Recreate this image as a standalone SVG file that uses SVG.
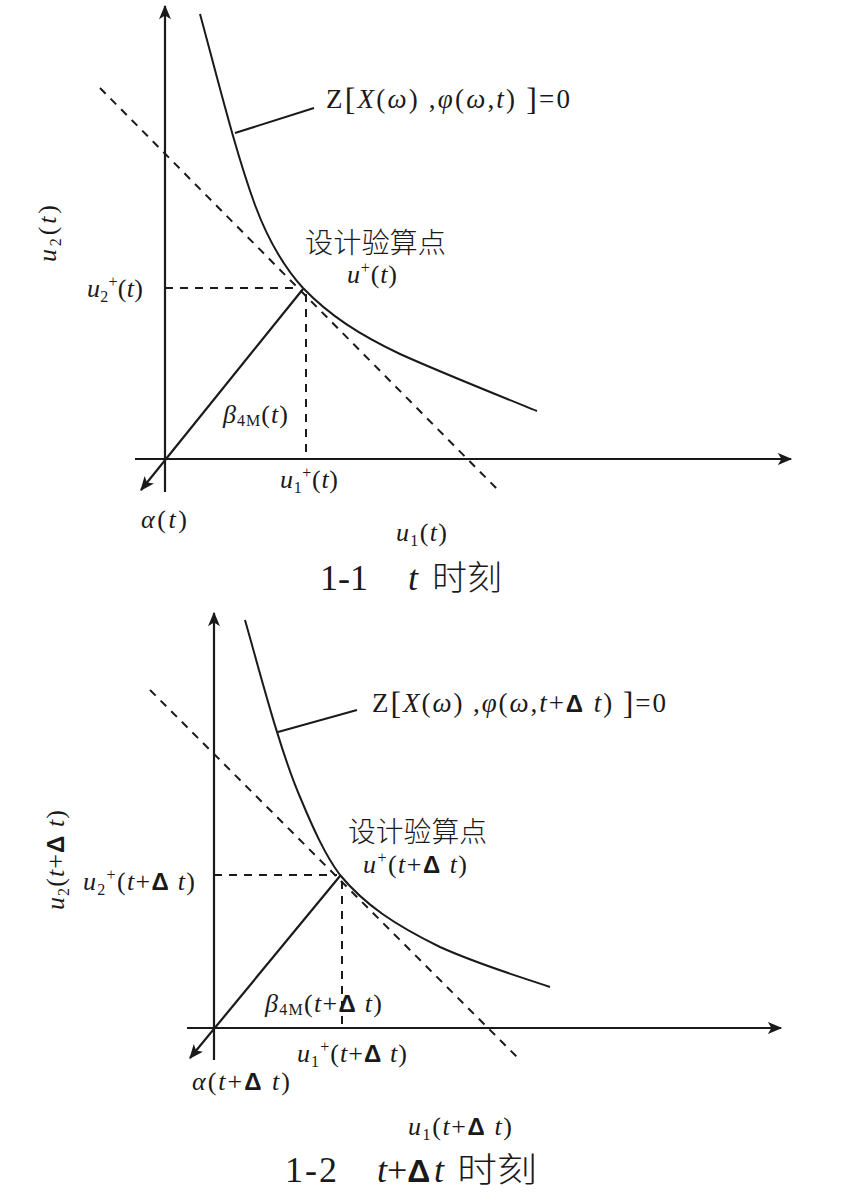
<svg xmlns="http://www.w3.org/2000/svg" width="851" height="1202" viewBox="0 0 851 1202">
<defs>
<marker id="arr" viewBox="0 0 12 10" refX="11" refY="5" markerWidth="15" markerHeight="12" markerUnits="userSpaceOnUse" orient="auto">
<path d="M0,0 L12,5 L0,10 L3,5 z" fill="#1a1a1a"/>
</marker>
</defs>
<style>
.ax{stroke:#1a1a1a;stroke-width:2.2;fill:none}
.cv{stroke:#1a1a1a;stroke-width:2;fill:none}
.ds{stroke:#1a1a1a;stroke-width:2;fill:none;stroke-dasharray:8,7}
.m{font-family:"Liberation Serif",serif;font-size:26px;fill:#1a1a1a}
.i{font-style:italic}
.s{font-size:16px}
.d{font-family:"Liberation Sans",sans-serif;font-weight:bold;font-size:24px}
.zh{font-family:"Noto Sans CJK SC",sans-serif;font-size:28px;font-weight:300;fill:#1a1a1a}
.tt{font-family:"Liberation Serif",serif;font-size:36px;fill:#1a1a1a}
.tz{font-family:"Noto Sans CJK SC",sans-serif;font-size:34px;font-weight:300;fill:#1a1a1a}
</style>
<rect width="851" height="1202" fill="#ffffff"/>

<g id="connectors">
<!-- top diagram -->
<line class="ax" x1="165" y1="492" x2="165" y2="6" marker-end="url(#arr)"/>
<line class="ax" x1="135" y1="459" x2="791" y2="459" marker-end="url(#arr)"/>
<line class="ax" x1="303" y1="289" x2="141" y2="490" marker-end="url(#arr)"/>
<line class="ds" x1="165" y1="288" x2="300" y2="288"/>
<line class="ds" x1="306" y1="294" x2="306" y2="459"/>
<line class="ds" x1="100" y1="88" x2="500" y2="492"/>
<path class="cv" d="M200,14 C218,80 235,150 255,205 C268,240 283,266 303,288 C330,316 360,335 400,354 C440,372 490,392 537,411"/>
<line class="cv" x1="235" y1="133" x2="314" y2="108"/>

<!-- bottom diagram -->
<line class="ax" x1="214" y1="1060" x2="214" y2="613" marker-end="url(#arr)"/>
<line class="ax" x1="187" y1="1028" x2="781" y2="1028" marker-end="url(#arr)"/>
<line class="ax" x1="340" y1="876" x2="190" y2="1058" marker-end="url(#arr)"/>
<line class="ds" x1="214" y1="875" x2="337" y2="875"/>
<line class="ds" x1="342" y1="881" x2="342" y2="1028"/>
<line class="ds" x1="150" y1="690" x2="518" y2="1058"/>
<path class="cv" d="M245,620 C262,680 280,750 300,797 C313,828 325,855 340,875 C365,905 395,925 440,947 C480,965 515,975 550,987"/>
<line class="cv" x1="278" y1="732" x2="357" y2="710"/>
</g>

<g id="top-labels">
<text class="m" x="326" y="108" textLength="244" lengthAdjust="spacing" style="font-size:27px">Z<tspan font-size="32" dy="2">[</tspan><tspan class="i" dy="-2">X</tspan>(<tspan class="i">ω</tspan>) ,<tspan class="i">φ</tspan>(<tspan class="i">ω</tspan>,<tspan class="i">t</tspan>) <tspan font-size="32" dy="2">]</tspan><tspan dy="-2">=0</tspan></text>
<text class="zh" x="305" y="253" textLength="141" lengthAdjust="spacingAndGlyphs">设计验算点</text>
<text class="m" x="347" y="283" textLength="50" lengthAdjust="spacing"><tspan class="i">u</tspan><tspan class="s" dy="-10">+</tspan><tspan dy="10">(</tspan><tspan class="i">t</tspan>)</text>
<text class="m" x="87" y="297" textLength="56" lengthAdjust="spacing"><tspan class="i">u</tspan><tspan class="s" dy="5">2</tspan><tspan class="s" dy="-15">+</tspan><tspan dy="10">(</tspan><tspan class="i">t</tspan>)</text>
<text class="m" transform="translate(56,262) rotate(-90)" textLength="57" lengthAdjust="spacing"><tspan class="i">u</tspan><tspan class="s" dy="5">2</tspan><tspan dy="-5">(</tspan><tspan class="i">t</tspan>)</text>
<text class="m" x="223" y="423" textLength="65" lengthAdjust="spacing"><tspan class="i">β</tspan><tspan class="s" dy="3">4M</tspan><tspan dy="-3">(</tspan><tspan class="i">t</tspan>)</text>
<text class="m" x="280" y="488" textLength="58" lengthAdjust="spacing"><tspan class="i">u</tspan><tspan class="s" dy="5">1</tspan><tspan class="s" dy="-15">+</tspan><tspan dy="10">(</tspan><tspan class="i">t</tspan>)</text>
<text class="m" x="141" y="528" textLength="46" lengthAdjust="spacing"><tspan class="i">α</tspan>(<tspan class="i">t</tspan>)</text>
<text class="m" x="396" y="541" textLength="51" lengthAdjust="spacing"><tspan class="i">u</tspan><tspan class="s" dy="5">1</tspan><tspan dy="-5">(</tspan><tspan class="i">t</tspan>)</text>
<text class="tt" x="320" y="590" textLength="48" lengthAdjust="spacing">1-1</text>
<text class="tt i" x="408" y="590">t</text>
<text class="tz" x="432" y="590" textLength="70" lengthAdjust="spacingAndGlyphs">时刻</text>
</g>

<g id="bottom-labels">
<text class="m" x="372" y="712" textLength="294" lengthAdjust="spacing" style="font-size:27px">Z<tspan font-size="32" dy="2">[</tspan><tspan class="i" dy="-2">X</tspan>(<tspan class="i">ω</tspan>) ,<tspan class="i">φ</tspan>(<tspan class="i">ω</tspan>,<tspan class="i">t</tspan>+<tspan class="d">Δ</tspan> <tspan class="i">t</tspan>) <tspan font-size="32" dy="2">]</tspan><tspan dy="-2">=0</tspan></text>
<text class="zh" x="348" y="842" textLength="139" lengthAdjust="spacingAndGlyphs">设计验算点</text>
<text class="m" x="363" y="873" textLength="104" lengthAdjust="spacing"><tspan class="i">u</tspan><tspan class="s" dy="-10">+</tspan><tspan dy="10">(</tspan><tspan class="i">t</tspan>+<tspan class="d">Δ</tspan> <tspan class="i">t</tspan>)</text>
<text class="m" x="83" y="890" textLength="112" lengthAdjust="spacing"><tspan class="i">u</tspan><tspan class="s" dy="5">2</tspan><tspan class="s" dy="-15">+</tspan><tspan dy="10">(</tspan><tspan class="i">t</tspan>+<tspan class="d">Δ</tspan> <tspan class="i">t</tspan>)</text>
<text class="m" transform="translate(64,910) rotate(-90)" textLength="100" lengthAdjust="spacing"><tspan class="i">u</tspan><tspan class="s" dy="5">2</tspan><tspan dy="-5">(</tspan><tspan class="i">t</tspan>+<tspan class="d">Δ</tspan> <tspan class="i">t</tspan>)</text>
<text class="m" x="265" y="1012" textLength="117" lengthAdjust="spacing"><tspan class="i">β</tspan><tspan class="s" dy="3">4M</tspan><tspan dy="-3">(</tspan><tspan class="i">t</tspan>+<tspan class="d">Δ</tspan> <tspan class="i">t</tspan>)</text>
<text class="m" x="297" y="1062" textLength="110" lengthAdjust="spacing"><tspan class="i">u</tspan><tspan class="s" dy="5">1</tspan><tspan class="s" dy="-15">+</tspan><tspan dy="10">(</tspan><tspan class="i">t</tspan>+<tspan class="d">Δ</tspan> <tspan class="i">t</tspan>)</text>
<text class="m" x="192" y="1090" textLength="98" lengthAdjust="spacing"><tspan class="i">α</tspan>(<tspan class="i">t</tspan>+<tspan class="d">Δ</tspan> <tspan class="i">t</tspan>)</text>
<text class="m" x="408" y="1135" textLength="104" lengthAdjust="spacing"><tspan class="i">u</tspan><tspan class="s" dy="5">1</tspan><tspan dy="-5">(</tspan><tspan class="i">t</tspan>+<tspan class="d">Δ</tspan> <tspan class="i">t</tspan>)</text>
<text class="tt" x="285" y="1182" textLength="52" lengthAdjust="spacing">1-2</text>
<text class="tt" x="377" y="1182"><tspan class="i">t</tspan>+<tspan style="font-family:'Liberation Sans',sans-serif;font-weight:bold;font-size:32px">Δ</tspan></text>
<text class="tt i" x="434" y="1182">t</text>
<text class="tz" x="457" y="1182" textLength="80" lengthAdjust="spacingAndGlyphs">时刻</text>
</g>
</svg>
